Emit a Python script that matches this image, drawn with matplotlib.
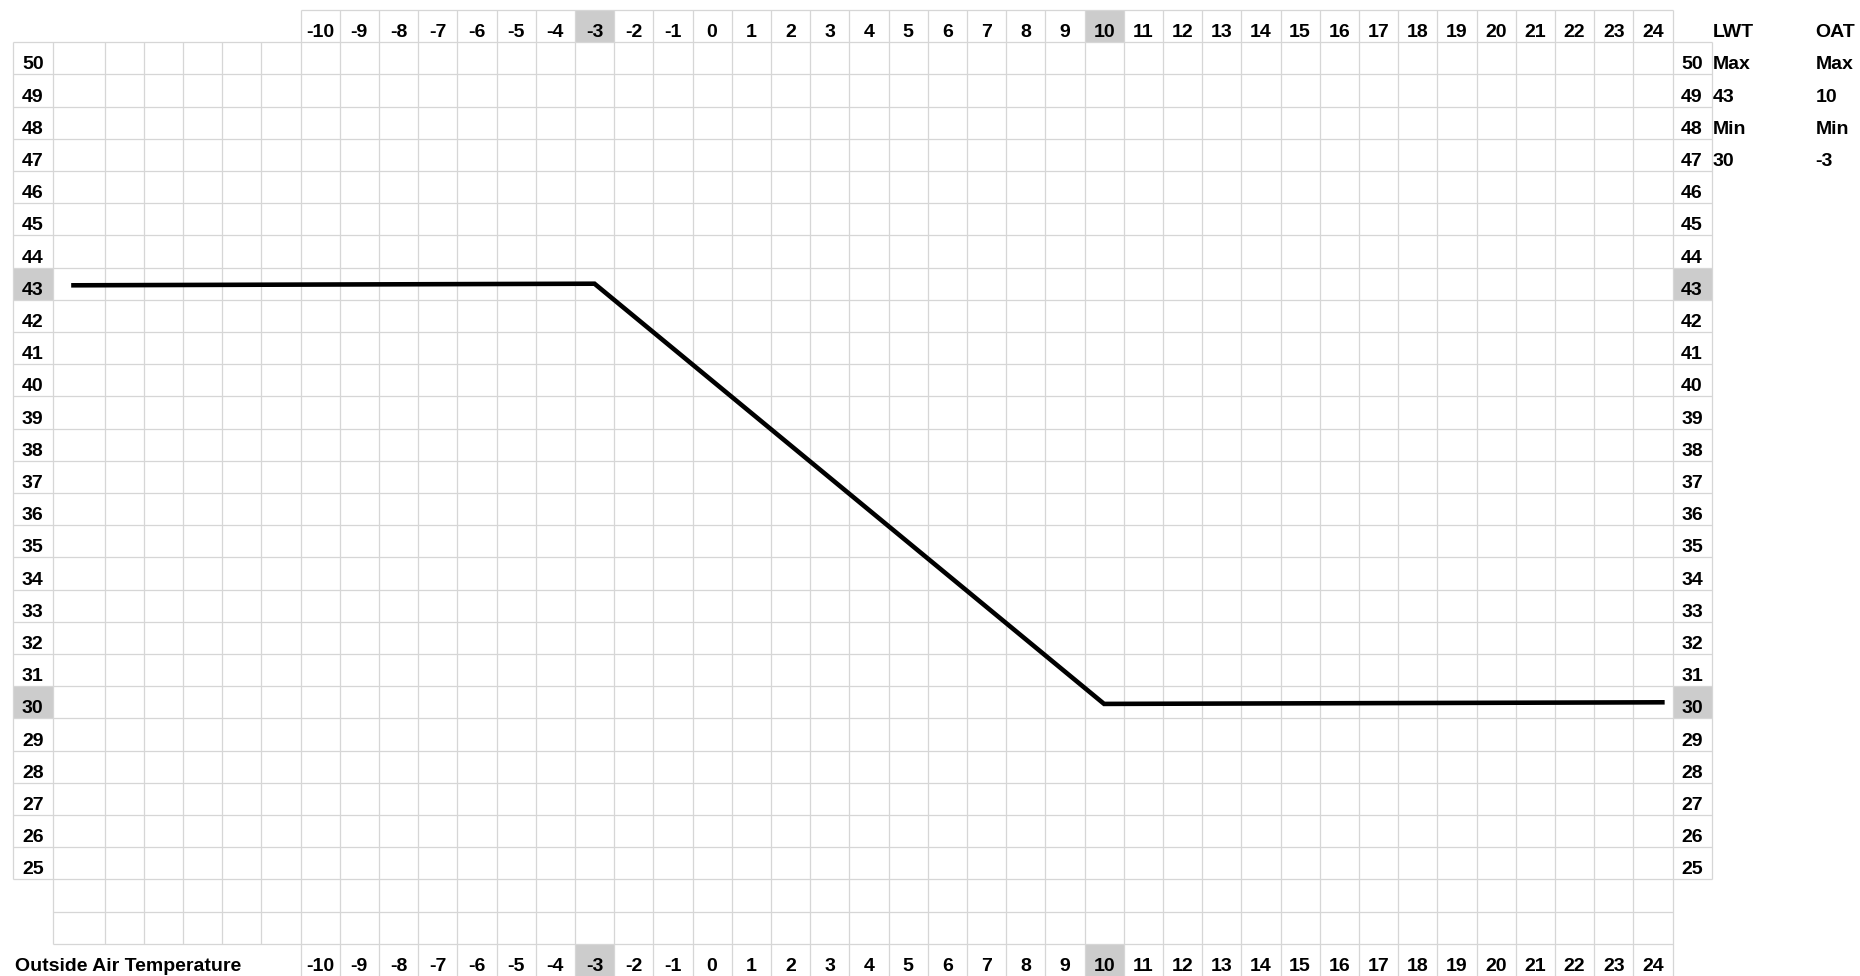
import matplotlib
matplotlib.use("Agg")
import matplotlib.pyplot as plt
from matplotlib.patches import Rectangle

plt.rcParams['font.family'] = ['Liberation Sans', 'DejaVu Sans']

# Data
oat_labels = [-10, -9, -8, -7, -6, -5, -4, -3, -2, -1, 0, 1, 2, 3, 4, 5, 6, 7,
              8, 9, 10, 11, 12, 13, 14, 15, 16, 17, 18, 19, 20, 21, 22, 23, 24]
lwt_labels = [50, 49, 48, 47, 46, 45, 44, 43, 42, 41, 40, 39, 38, 37, 36, 35,
              34, 33, 32, 31, 30, 29, 28, 27, 26, 25]
lwt_max, lwt_min = 43, 30
oat_max, oat_min = 10, -3
line_oat = [-16.35, oat_min, oat_max, 24.3]
line_lwt = [42.95, lwt_max, 29.95, 30.0]
x_title = "Outside Air Temperature"

# sheet layout (pixels)
W, H = 1860, 976
a_left, b_left, c_left = 13, 52.6, 104.5
cw = 39.2
oat_left = c_left + 5 * cw
oat_right = oat_left + len(oat_labels) * cw
rcol_right = oat_right + 39.0
lwt_x, oatcol_x = 1713, 1815.5
top0, rh = 10, 32.2

def row_top(r):
    return top0 + r * rh

n_val = len(lwt_labels)
bottom_r = n_val + 3

grid_c = '#d6d6d6'
hl_c = '#cccccc'
fs = 14

fig = plt.figure(figsize=(W / 100, H / 100), dpi=100)
ax = fig.add_axes([0, 0, 1, 1])
ax.set_xlim(0, W)
ax.set_ylim(H, 0)
ax.axis('off')

# highlight cells
for i, v in enumerate(oat_labels):
    if v in (oat_min, oat_max):
        x0 = oat_left + i * cw
        for r in (0, bottom_r):
            ax.add_patch(Rectangle((x0, row_top(r)), cw, rh, color=hl_c, lw=0))
for j, v in enumerate(lwt_labels):
    if v in (lwt_min, lwt_max):
        y0 = row_top(j + 1)
        ax.add_patch(Rectangle((a_left, y0), b_left - a_left, rh, color=hl_c, lw=0))
        ax.add_patch(Rectangle((oat_right, y0), rcol_right - oat_right, rh, color=hl_c, lw=0))

lw = 0.9
# vertical lines
ax.vlines(a_left, row_top(1), row_top(n_val + 1), color=grid_c, lw=lw)
ax.vlines(rcol_right, row_top(1), row_top(n_val + 1), color=grid_c, lw=lw)
ax.vlines([b_left] + [c_left + k * cw for k in range(5)], row_top(1), row_top(bottom_r),
          color=grid_c, lw=lw)
ax.vlines([oat_left + k * cw for k in range(len(oat_labels) + 1)], row_top(0), H,
          color=grid_c, lw=lw)
# horizontal lines
ax.hlines(row_top(0), oat_left, oat_right, color=grid_c, lw=lw)
ax.hlines([row_top(r) for r in range(1, n_val + 2)], a_left, rcol_right, color=grid_c, lw=lw)
ax.hlines([row_top(n_val + 2), row_top(bottom_r)], b_left, oat_right, color=grid_c, lw=lw)

# header labels
for i, v in enumerate(oat_labels):
    xc = oat_left + (i + 0.5) * cw
    for r in (0, bottom_r):
        ax.text(xc, row_top(r + 1) - 5, str(v), ha='center', va='baseline',
                fontsize=fs, fontweight='bold')
for j, v in enumerate(lwt_labels):
    yb = row_top(j + 2) - 5
    ax.text((a_left + b_left) / 2, yb, str(v), ha='center', va='baseline',
            fontsize=fs, fontweight='bold')
    ax.text((oat_right + rcol_right) / 2, yb, str(v), ha='center', va='baseline',
            fontsize=fs, fontweight='bold')

ax.text(14.6, row_top(bottom_r + 1) - 5, x_title, ha='left', va='baseline',
        fontsize=fs, fontweight='bold')

# LWT / OAT info block
lwt_col = ["LWT", "Max", str(lwt_max), "Min", str(lwt_min)]
oat_col = ["OAT", "Max", str(oat_max), "Min", str(oat_min)]
for r, (a, b) in enumerate(zip(lwt_col, oat_col)):
    ax.text(lwt_x, row_top(r + 1) - 5, a, ha='left', va='baseline',
            fontsize=fs, fontweight='bold')
    ax.text(oatcol_x, row_top(r + 1) - 5, b, ha='left', va='baseline',
            fontsize=fs, fontweight='bold')

# chart overlay in data units
bx = fig.add_axes([oat_left / W, (H - row_top(n_val + 1)) / H,
                   (oat_right - oat_left) / W, (row_top(n_val + 1) - row_top(1)) / H])
bx.set_xlim(oat_labels[0] - 0.5, oat_labels[-1] + 0.5)
bx.set_ylim(lwt_labels[-1] - 0.5, lwt_labels[0] + 0.5)
bx.patch.set_alpha(0)
bx.axis('off')
bx.plot(line_oat, line_lwt, color='black', lw=3.3, clip_on=False,
        solid_joinstyle='miter', solid_capstyle='butt')

fig.savefig('out.png', dpi=100)
